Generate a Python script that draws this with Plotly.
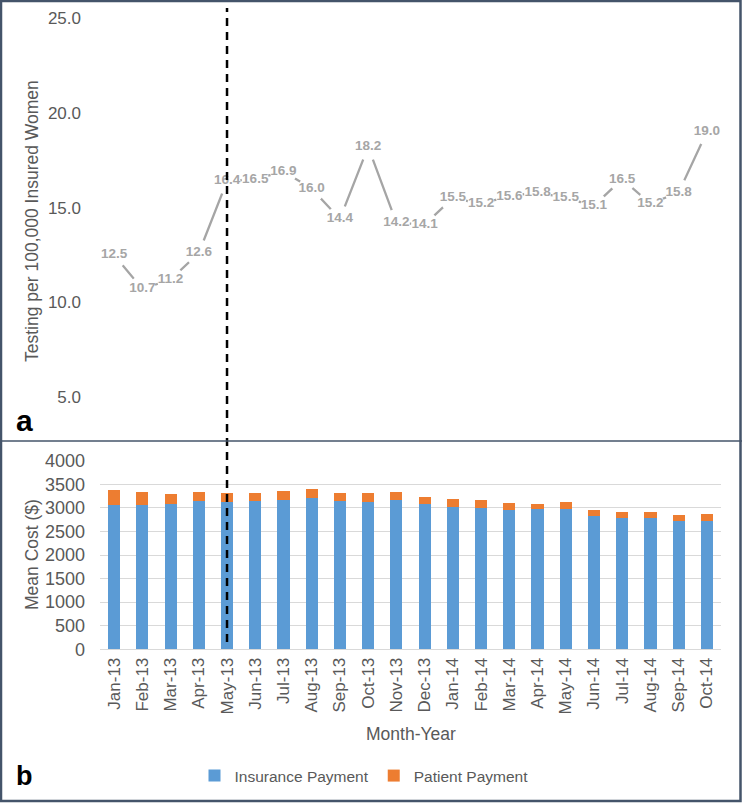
import plotly.graph_objects as go

months = ["Jan-13", "Feb-13", "Mar-13", "Apr-13", "May-13", "Jun-13", "Jul-13", "Aug-13",
          "Sep-13", "Oct-13", "Nov-13", "Dec-13", "Jan-14", "Feb-14", "Mar-14", "Apr-14",
          "May-14", "Jun-14", "Jul-14", "Aug-14", "Sep-14", "Oct-14"]
testing_rate = [12.5, 10.7, 11.2, 12.6, 16.4, 16.5, 16.9, 16.0, 14.4, 18.2, 14.2, 14.1,
                15.5, 15.2, 15.6, 15.8, 15.5, 15.1, 16.5, 15.2, 15.8, 19.0]
insurance_payment = [3050, 3050, 3090, 3145, 3125, 3145, 3175, 3215, 3145, 3130, 3165, 3075,
                     3025, 3005, 2945, 2970, 2970, 2825, 2785, 2785, 2715, 2715]
patient_payment = [330, 280, 210, 200, 185, 175, 180, 180, 165, 175, 165, 160,
                   155, 160, 150, 110, 155, 130, 135, 120, 135, 155]
top_ticks = [5, 10, 15, 20, 25]
bottom_ticks = [0, 500, 1000, 1500, 2000, 2500, 3000, 3500, 4000]
cut_month = "May-13"

W, H = 742, 803
FONT = "Arial, Liberation Sans, sans-serif"
TICK = "#595959"
LINE_GRAY = "#A5A5A5"
FRAME = "#44546A"

def py(p):
    return 1 - p / H

fig = go.Figure()

# top panel: line + white knockouts + labels
fig.add_trace(go.Scatter(x=months, y=testing_rate, mode="lines",
                         line=dict(color=LINE_GRAY, width=2.3),
                         xaxis="x", yaxis="y", showlegend=False, hoverinfo="skip"))
fig.add_trace(go.Scatter(x=months, y=testing_rate, mode="markers",
                         marker=dict(color="white", size=27, symbol="circle",
                                     line=dict(width=0)),
                         xaxis="x", yaxis="y", showlegend=False, hoverinfo="skip"))
fig.add_trace(go.Scatter(x=months, y=testing_rate, mode="text",
                         text=[f"{v:.1f}" for v in testing_rate],
                         textposition="middle center",
                         textfont=dict(family=FONT, size=13.5, color="#A6A6A6", weight="bold"),
                         xaxis="x", yaxis="y", showlegend=False, cliponaxis=False))

# bottom panel: stacked bars
fig.add_trace(go.Bar(x=months, y=insurance_payment, name="Insurance Payment",
                     marker=dict(color="#5B9BD5", line=dict(width=0)),
                     xaxis="x2", yaxis="y2"))
fig.add_trace(go.Bar(x=months, y=patient_payment, name="Patient Payment",
                     marker=dict(color="#ED7D31", line=dict(width=0)),
                     xaxis="x2", yaxis="y2"))

xdom = [100 / W, 721 / W]
fig.update_layout(
    width=W, height=H,
    margin=dict(l=0, r=0, t=0, b=0, pad=0, autoexpand=False),
    paper_bgcolor="white", plot_bgcolor="white",
    font=dict(family=FONT, color=TICK),
    barmode="stack", bargap=0.57,
    xaxis=dict(domain=xdom, anchor="y", visible=False, automargin=False,
               categoryorder="array", categoryarray=months, range=[-0.5, len(months) - 0.5]),
    yaxis=dict(domain=[py(441), py(5)], anchor="x", range=[2.68, 25.69], automargin=False,
               tickvals=top_ticks, tickformat=".1f", showgrid=False, zeroline=False,
               showline=False, ticks="", ticklabelstandoff=18,
               tickfont=dict(size=17, color=TICK)),
    xaxis2=dict(domain=xdom, anchor="y2", categoryorder="array", categoryarray=months,
                range=[-0.5, len(months) - 0.5], tickangle=-90, ticks="", automargin=False,
                showline=False, showgrid=False, ticklabelstandoff=4,
                tickfont=dict(size=17, color=TICK)),
    yaxis2=dict(domain=[py(649.3), py(460.7)], anchor="x2", range=[0, 4000], automargin=False,
                tickvals=bottom_ticks, showgrid=True, gridcolor="#D9D9D9", gridwidth=1,
                zeroline=True, zerolinecolor="#D9D9D9", zerolinewidth=1,
                showline=False, ticks="", ticklabelstandoff=14,
                tickfont=dict(size=18, color=TICK)),
    legend=dict(orientation="h", x=364 / W, xanchor="center", y=py(776), yanchor="middle",
                font=dict(size=15.5, color=TICK), traceorder="normal", itemwidth=30,
                bgcolor="rgba(0,0,0,0)"),
    annotations=[
        dict(text="Testing per 100,000 Insured Women", textangle=-90, x=32 / W, y=py(221),
             xref="paper", yref="paper", xanchor="center", yanchor="middle",
             showarrow=False, font=dict(size=17.5, color=TICK)),
        dict(text="Mean Cost ($)", textangle=-90, x=32 / W, y=py(555),
             xref="paper", yref="paper", xanchor="center", yanchor="middle",
             showarrow=False, font=dict(size=17.5, color=TICK)),
        dict(text="Month-Year", x=411 / W, y=py(734), xref="paper", yref="paper",
             xanchor="center", yanchor="middle",
             showarrow=False, font=dict(size=17.5, color=TICK)),
        dict(text="<b>a</b>", x=14 / W, y=py(420), xref="paper", yref="paper",
             xanchor="left", yanchor="middle", showarrow=False,
             font=dict(size=30, color="black")),
        dict(text="<b>b</b>", x=14 / W, y=py(776), xref="paper", yref="paper",
             xanchor="left", yanchor="middle", showarrow=False,
             font=dict(size=27, color="black")),
    ],
    shapes=[
        dict(type="line", xref="x2", yref="paper", x0=cut_month, x1=cut_month,
             y0=py(642), y1=py(8), line=dict(color="black", width=2.5, dash="8px,6px"),
             layer="above"),
        dict(type="line", xref="paper", yref="paper", x0=0, x1=1, y0=py(441), y1=py(441),
             line=dict(color=FRAME, width=1.5), layer="above"),
        dict(type="rect", xref="paper", yref="paper", x0=1 / W, x1=1 - 1.5 / W,
             y0=py(801), y1=py(1), line=dict(color=FRAME, width=2.5), layer="above"),
    ],
)

fig.write_html("out.html", config={"displayModeBar": False},
               post_script="document.body.style.margin='0px';")
